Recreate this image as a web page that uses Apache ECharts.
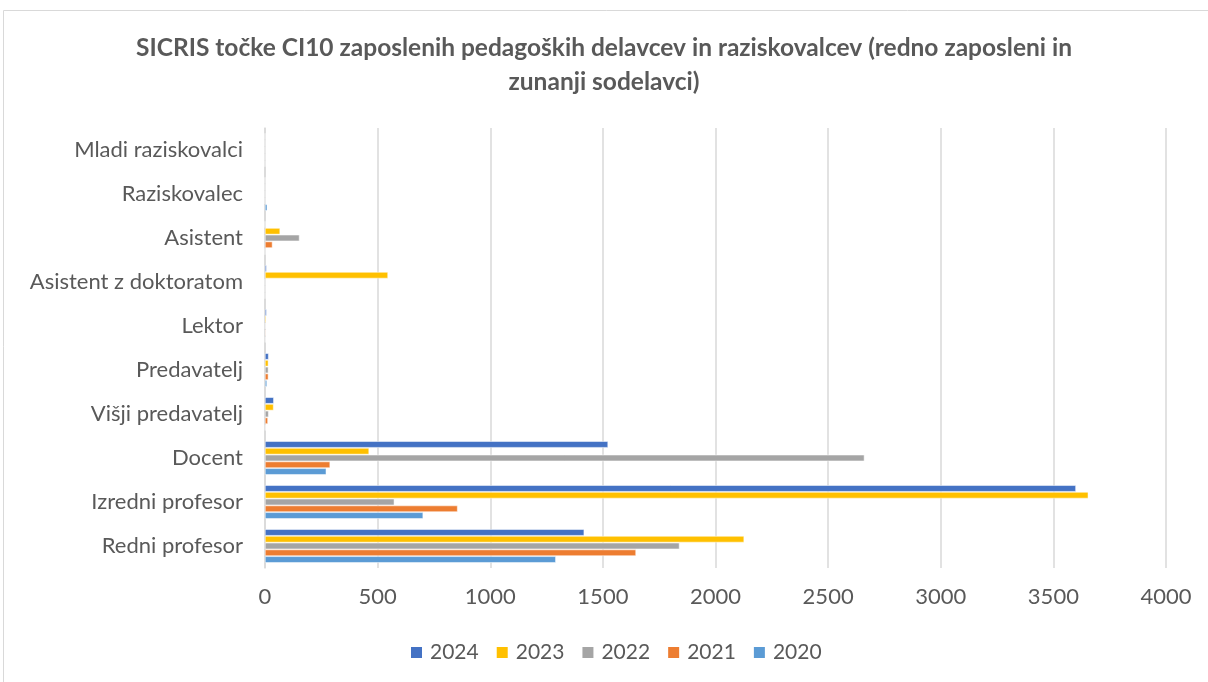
<!DOCTYPE html>
<html>
<head>
<meta charset="utf-8">
<script src="https://cdn.jsdelivr.net/npm/echarts@6/dist/echarts.min.js"></script>
<style>
  html, body { margin: 0; padding: 0; background: #fff; }
  #chart { width: 1208px; height: 682px; }
</style>
</head>
<body>
<div id="chart"></div>
<script>
// kategorije (od spodaj navzgor)
var categories = ['Redni profesor', 'Izredni profesor', 'Docent', 'Višji predavatelj', 'Predavatelj',
    'Lektor', 'Asistent z doktoratom', 'Asistent', 'Raziskovalec', 'Mladi raziskovalci'];
var xTicks = [0, 500, 1000, 1500, 2000, 2500, 3000, 3500, 4000];

var years = ['2024', '2023', '2022', '2021', '2020'];
var v2024 = [1417, 3600, 1523, 39, 16, 7, 7, 0, 0, 0];
var v2023 = [2127, 3655, 462, 38, 15, 5, 546, 67, 0, 0];
var v2022 = [1840, 574, 2661, 16, 15, 2, 0, 153, 0, 0];
var v2021 = [1647, 855, 289, 13, 15, 3, 0, 33, 0, 0];
var v2020 = [1291, 702, 272, 2, 9, 2, 0, 0, 10, 0];
var colors = ['#4472C4', '#FFC000', '#A5A5A5', '#ED7D31', '#5B9BD5'];

var myBarChart = function () {
    var chart = echarts.init(document.getElementById('chart'));
    var values = [v2024, v2023, v2022, v2021, v2020];
    var series = [];
    // prva serija je na vrhu skupine
    years.forEach(function (y, i) {
        series.push({
            name: y,
            type: 'bar',
            data: values[i],
            barGap: '6%',
            barCategoryGap: '24%',
            itemStyle: { color: colors[i], borderColor: '#fff', borderWidth: 0.5 }
        });
    });
    var option = {
        animation: false,
        textStyle: { fontFamily: 'Lato' },
        title: {
            text: 'SICRIS točke CI10 zaposlenih pedagoških delavcev in raziskovalcev (redno zaposleni in\nzunanji sodelavci)',
            left: 'center',
            top: 26,
            textStyle: { color: '#595959', fontSize: 24.5, fontWeight: 'bold', lineHeight: 34, fontFamily: 'Lato' }
        },
        graphic: [{
            type: 'rect',
            shape: { x: 3.5, y: 10.5, width: 1210, height: 680 },
            style: { fill: null, stroke: '#D9D9D9', lineWidth: 1 },
            silent: true
        }],
        legend: {
            data: years,
            bottom: 14,
            left: 404,
            itemWidth: 13,
            itemHeight: 13,
            itemGap: 16,
            icon: 'rect',
            textStyle: { color: '#595959', fontSize: 21, padding: [0, 0, 0, 2] }
        },
        grid: { left: 265, right: 42, top: 128, bottom: 114 },
        xAxis: {
            type: 'value',
            min: xTicks[0],
            max: xTicks[xTicks.length - 1],
            interval: 500,
            axisLine: { show: false },
            axisTick: { show: false },
            axisLabel: { color: '#595959', fontSize: 22, margin: 18, formatter: function (v) { return String(v); } },
            splitLine: { lineStyle: { color: '#D9D9D9', width: 1.5 } }
        },
        yAxis: {
            type: 'category',
            data: categories,
            axisLine: { lineStyle: { color: '#D9D9D9', width: 1.5 } },
            axisTick: { show: false },
            axisLabel: { color: '#595959', fontSize: 22, margin: 22 }
        },
        series: series
    };
    chart.setOption(option);
};

myBarChart();
</script>
</body>
</html>
